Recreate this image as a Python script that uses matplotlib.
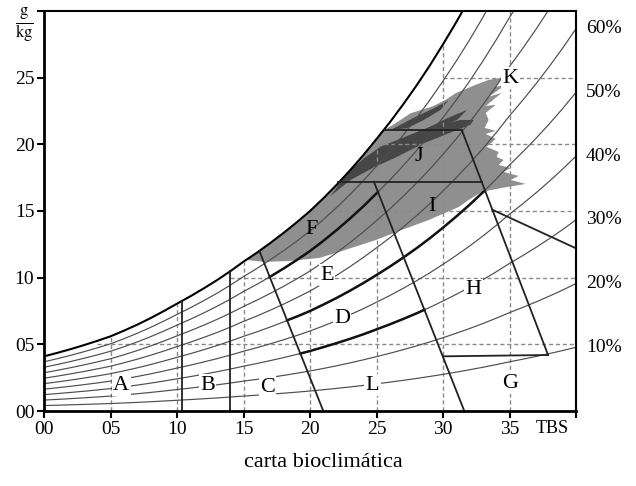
import numpy as np
import matplotlib.pyplot as plt

plt.rcParams['font.family'] = ['Liberation Serif', 'DejaVu Serif']
plt.rcParams['mathtext.fontset'] = 'stix'

# saturation curve (g/kg vs dry bulb temperature, 1 degree steps)
tbs = list(range(0, 41))
w_sat = [4.1, 4.36, 4.64, 4.94, 5.26, 5.6, 6.02, 6.47, 6.96, 7.49,
         8.05, 8.6, 9.19, 9.81, 10.48, 11.2, 11.87, 12.59, 13.35, 14.15,
         15.0, 15.95, 16.96, 18.04, 19.18, 20.4, 21.65, 22.99, 24.4, 25.9,
         27.5, 29.17, 30.93, 32.81, 34.8, 36.9, 38.86, 40.92, 43.09, 45.37,
         47.8]
rh_levels = [0.1, 0.2, 0.3, 0.4, 0.5, 0.6, 0.7, 0.8, 0.9]
rh_labels = ['10%', '20%', '30%', '40%', '50%', '60%']

# bold parts of the 80%, 50% and 30% curves (zone borders)
rh80_x = [16.97, 18, 19, 20, 21, 22, 23, 24, 25.1]
rh80_y = [10.05, 10.68, 11.32, 12.0, 12.76, 13.57, 14.43, 15.34, 16.42]
rh50_x = [18.27, 19, 20, 21, 22, 23, 24, 25, 26, 27, 28, 29, 30, 31, 32, 33, 33.15]
rh50_y = [6.8, 7.08, 7.5, 7.98, 8.48, 9.02, 9.59, 10.2, 10.83, 11.5, 12.2, 12.95,
          13.75, 14.59, 15.47, 16.41, 16.5]
rh30_x = [19.27, 20, 21, 22, 23, 24, 25, 26, 27, 28, 28.6]
rh30_y = [4.31, 4.5, 4.79, 5.09, 5.41, 5.75, 6.12, 6.5, 6.9, 7.32, 7.59]

# straight zone borders (x0, y0, x1, y1)
borders = [
    (10.4, 0.0, 10.4, 8.27),
    (14.0, 0.0, 14.0, 10.48),
    (16.2, 11.98, 21.0, 0.0),
    (24.8, 17.2, 31.6, 0.0),
    (22.1, 17.2, 32.9, 17.2),
    (25.6, 21.1, 31.4, 21.1),
    (31.4, 21.1, 37.9, 4.2),
    (30.0, 4.1, 37.9, 4.2),
    (33.7, 15.1, 40.0, 12.2),
]

# dashed grid
hgrid_y = [5, 10, 15, 20, 25]
hgrid_x0 = [4.0, 14.0, 20.0, 25.0, 30.0]
vgrid_x = [5, 10, 15, 20, 25, 30, 35]
vgrid_top = [5.6, 8.05, 11.2, 15.0, 20.4, 27.5, 30.0]

# climate data cloud (light grey)
cloud_x = [15.2, 16, 17, 18, 19, 20, 21, 22, 23, 24, 25, 25.6, 26.3, 27.56, 29.18, 30.19,
           30.94, 32.44, 33.43, 34.4, 33.96, 34.71, 33.43, 34.41, 33.21, 33.96, 33.21,
           33.43, 33.13, 33.96, 33.21, 33.96, 33.28, 34.18, 34.03, 34.56, 34.18, 35.08,
           34.56, 35.68, 35.08, 36.21, 35.31, 34.41, 33.66, 32.91, 31.93, 31.18, 28.94,
           26.69, 24.96, 22.19, 20.69, 18.44, 16.57]
cloud_y = [11.33, 11.87, 12.59, 13.35, 14.15, 15.0, 15.95, 16.96, 18.04, 19.18, 20.4,
           21.1, 21.5, 22.33, 22.83, 23.33, 23.83, 24.46, 24.83, 25.0, 24.31, 24.46,
           23.56, 23.86, 22.88, 22.96, 22.36, 21.83, 21.23, 21.01, 20.78, 20.41, 19.81,
           19.43, 19.05, 18.83, 18.45, 18.23, 17.93, 17.63, 17.33, 17.03, 16.88, 16.73,
           16.58, 16.43, 15.83, 15.3, 14.33, 13.5, 12.83, 11.93, 11.48, 11.25, 11.18]

# denser part of the cloud (dark grey)
dark1_x = [21.5, 23.06, 24.81, 26.31, 28.56, 29.81, 31.06, 32.06, 32.31, 31.31, 30.31,
           29.06, 27.81, 26.56, 25.31, 24.06, 22.81, 21.9]
dark1_y = [16.1, 17.33, 18.28, 18.95, 20.08, 20.58, 21.08, 21.46, 21.83, 21.83, 21.58,
           21.33, 20.83, 20.33, 19.83, 18.95, 17.9, 16.6]
dark2_x = [26.06, 27.81, 29.31, 30.4, 29.81, 28.56, 27.31]
dark2_y = [21.08, 22.0, 22.7, 23.3, 22.58, 21.83, 21.21]
dark3_x = [28.56, 30.31, 31.81, 31.06, 29.81]
dark3_y = [21.08, 21.96, 22.58, 21.83, 21.33]

# zone letters
zone_names = ['A', 'B', 'C', 'D', 'E', 'F', 'G', 'H', 'I', 'J', 'K', 'L']
zone_x = [5.8, 12.3, 16.8, 22.4, 21.3, 20.1, 35.06, 32.3, 29.2, 28.2, 35.06, 24.7]
zone_y = [1.95, 1.95, 1.8, 6.95, 10.2, 13.6, 2.1, 9.1, 15.3, 19.1, 24.95, 1.95]
zone_boxed = [True, True, True, True, True, False, True, True, False, False, True, True]

fig = plt.figure(figsize=(6.36, 4.86), dpi=100)
ax = fig.add_axes([0.0692, 0.1543, 0.8365, 0.8231])

tbs = np.array(tbs)
w_sat = np.array(w_sat)

ax.fill(cloud_x, cloud_y, color='#8f8f8f', lw=0, zorder=1)
for dx, dy in [(dark1_x, dark1_y), (dark2_x, dark2_y), (dark3_x, dark3_y)]:
    ax.fill(dx, dy, color='#464646', lw=0, zorder=1.2)

for y, x0 in zip(hgrid_y, hgrid_x0):
    ax.plot([x0, 40], [y, y], color='#8a8a8a', lw=1.0, ls=(0, (3, 2)), zorder=1.5)
for x, top in zip(vgrid_x, vgrid_top):
    ax.plot([x, x], [0, top], color='#8a8a8a', lw=1.0, ls=(0, (3, 2)), zorder=1.5)

for rh in rh_levels:
    ax.plot(tbs, rh * w_sat, color='#4d4d4d', lw=0.85, zorder=2)
ax.plot(tbs, w_sat, color='black', lw=1.5, zorder=3)

for bx, by in [(rh80_x, rh80_y), (rh50_x, rh50_y), (rh30_x, rh30_y)]:
    ax.plot(bx, by, color='#111111', lw=1.8, zorder=3)
for x0, y0, x1, y1 in borders:
    ax.plot([x0, x1], [y0, y1], color='#222222', lw=1.3, zorder=3)

for name, x, y, boxed in zip(zone_names, zone_x, zone_y, zone_boxed):
    t = ax.text(x, y, name, fontsize=16, ha='center', va='center', zorder=4)
    if boxed:
        t.set_bbox(dict(facecolor='white', edgecolor='none', pad=1.0))

for i, lab in enumerate(rh_labels):
    ax.text(40.75, rh_levels[i] * w_sat[-1], lab, fontsize=14, ha='left', va='center',
            clip_on=False)

ax.set_xlim(0, 40)
ax.set_ylim(0, 30)
ax.set_xticks([0, 5, 10, 15, 20, 25, 30, 35, 40])
ax.set_xticklabels(['00', '05', '10', '15', '20', '25', '30', '35', ''])
ax.set_yticks([0, 5, 10, 15, 20, 25, 30])
ax.set_yticklabels(['00', '05', '10', '15', '20', '25', ''])
ax.tick_params(direction='out', length=5, width=1.5, labelsize=14, pad=2)
for name, sp in ax.spines.items():
    sp.set_linewidth(2.0 if name in ('left', 'bottom') else 1.5)
    sp.set_zorder(5)

ax.text(38.2, -1.3, 'TBS', fontsize=13, ha='center', va='center', clip_on=False)
ax.text(-1.45, 28.9, r'$\frac{\mathrm{g}}{\mathrm{kg}}$', fontsize=17, ha='center',
        va='center', clip_on=False)
fig.text(0.509, 0.049, 'carta bioclimática', fontsize=16, ha='center', va='center')

fig.savefig('out.png', dpi=100)
